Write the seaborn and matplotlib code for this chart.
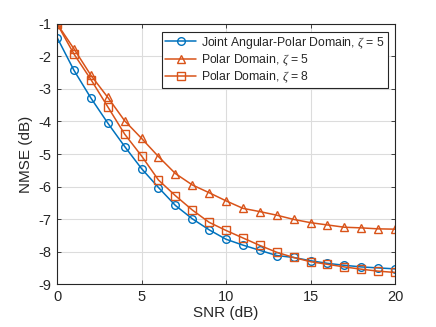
import numpy as np
import pandas as pd
import matplotlib
matplotlib.use("Agg")
import matplotlib.pyplot as plt
import seaborn as sns

# SNR points and NMSE curves (dB)
snr = list(range(0, 21))
joint_z5 = [-1.42, -2.43, -3.28, -4.05, -4.77, -5.45, -6.03, -6.58, -6.99, -7.33, -7.62,
            -7.80, -7.96, -8.12, -8.18, -8.28, -8.36, -8.42, -8.47, -8.50, -8.53]
polar_z5 = [-1.00, -1.77, -2.58, -3.26, -3.98, -4.52, -5.08, -5.60, -5.95, -6.19, -6.44,
            -6.67, -6.77, -6.88, -7.01, -7.11, -7.18, -7.25, -7.27, -7.30, -7.31]
polar_z8 = [-1.00, -1.93, -2.71, -3.55, -4.39, -5.06, -5.80, -6.28, -6.72, -7.10, -7.35,
            -7.58, -7.81, -8.02, -8.18, -8.31, -8.39, -8.47, -8.54, -8.60, -8.64]
labels = [r"Joint Angular-Polar Domain, $\zeta$ = 5",
          r"Polar Domain, $\zeta$ = 5",
          r"Polar Domain, $\zeta$ = 8"]

sns.set_style("whitegrid")
plt.rcParams["font.family"] = ["Liberation Sans", "DejaVu Sans"]
plt.rcParams["axes.unicode_minus"] = False
plt.rcParams["mathtext.fontset"] = "custom"
plt.rcParams["mathtext.it"] = "Liberation Serif:italic"

blue = "#0072BD"
orange = "#D95319"

fig = plt.figure(figsize=(4.36, 3.27), dpi=100)
ax = fig.add_axes([0.131, 0.131, 0.775, 0.796])

series = [(joint_z5, blue, "o"), (polar_z5, orange, "^"), (polar_z8, orange, "s")]
for (vals, col, mk), lab in zip(series, labels):
    df = pd.DataFrame({"SNR": snr, "NMSE": vals})
    sns.lineplot(data=df, x="SNR", y="NMSE", ax=ax, color=col, marker=mk,
                 markersize=5.5, markerfacecolor="none", markeredgecolor=col,
                 markeredgewidth=1.0, linewidth=1.1, label=lab)

ax.set_xlim(0, 20)
ax.set_ylim(-9, -1)
ax.set_xticks([0, 5, 10, 15, 20])
ax.set_yticks(list(range(-9, 0)))
ax.grid(True, color="#dcdcdc", linewidth=0.8)
for s in ax.spines.values():
    s.set_color("#262626")
    s.set_linewidth(0.8)
ax.tick_params(direction="in", length=3, width=0.6, colors="#262626",
               labelsize=10.5, top=True, right=True, bottom=True, left=True, pad=4)
ax.set_xlabel("SNR (dB)", fontsize=11, color="#262626", labelpad=2)
ax.set_ylabel("NMSE (dB)", fontsize=11, color="#262626", labelpad=4)

leg = ax.legend(loc="upper right", bbox_to_anchor=(0.978, 0.97), fontsize=8.8,
                frameon=True, fancybox=False, framealpha=1, edgecolor="#262626",
                borderpad=0.25, labelspacing=0.12, handlelength=2.6, handletextpad=0.35,
                borderaxespad=0)
leg.get_frame().set_linewidth(0.8)

fig.savefig("out.png", dpi=100)
